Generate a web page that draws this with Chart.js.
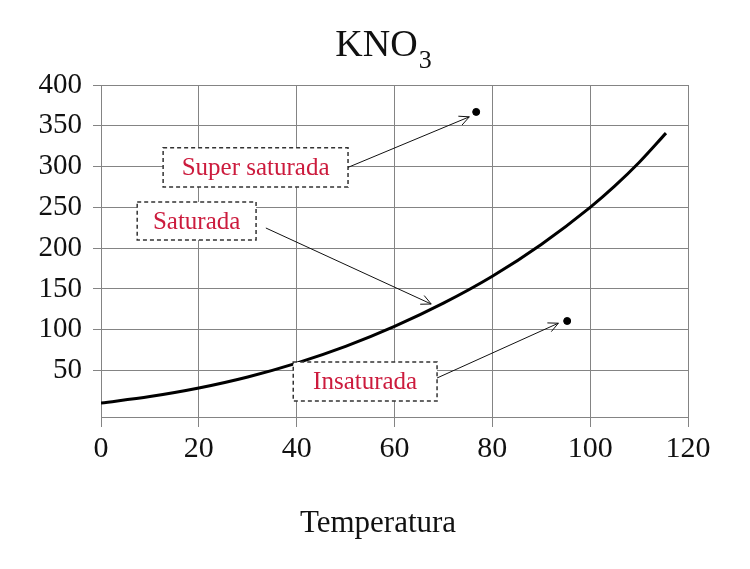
<!DOCTYPE html>
<html>
<head>
<meta charset="utf-8">
<script src="https://cdn.jsdelivr.net/npm/chart.js@4"></script>
<style>
  html, body { margin: 0; padding: 0; background: #fff; }
  #wrap { width: 750px; height: 569px; }
</style>
</head>
<body>
<div id="wrap"><canvas id="kno3"></canvas></div>
<script>
// curva de solubilidad KNO3
const temperaturas = [0, 10, 20, 30, 40, 50, 60, 70, 80, 90, 100, 105, 110, 115.5];
const solubilidad = [10, 18, 28.5, 42, 59, 79.5, 104, 132.5, 165.5, 204.5, 250, 276, 305, 341];
// puntos sueltos (super saturada / insaturada)
const puntosX = [76.7, 95.3];
const puntosY = [367, 110.7];
const xTicks = [0, 20, 40, 60, 80, 100, 120];
const yTicks = [50, 100, 150, 200, 250, 300, 350, 400];

const FONT = "'Liberation Serif', 'DejaVu Serif', serif";
const ROJO = '#cc1b3d';

// cajas con borde punteado y flechas, en coordenadas de datos
const etiquetas = [
  { texto: 'Super saturada', x0: 12.7, x1: 50.5, y0: 275, y1: 323, desde: [50.5, 299], hasta: [75.3, 361] },
  { texto: 'Saturada', x0: 7.4, x1: 31.7, y0: 210, y1: 256.6, desde: [33.7, 224.7], hasta: [67.5, 131.5] },
  { texto: 'Insaturada', x0: 39.3, x1: 68.7, y0: 12.6, y1: 60.4, desde: [68.7, 40.8], hasta: [93.5, 108] }
];

const anotaciones = {
  id: 'anotaciones',
  afterDatasetsDraw(chart) {
    const {ctx, scales: {x, y}} = chart;
    ctx.save();
    etiquetas.forEach(e => {
      const l = x.getPixelForValue(e.x0), r = x.getPixelForValue(e.x1);
      const t = y.getPixelForValue(e.y1), b = y.getPixelForValue(e.y0);
      ctx.fillStyle = '#fff';
      ctx.fillRect(l, t, r - l, b - t);
      ctx.setLineDash([4, 3]);
      ctx.strokeStyle = '#333';
      ctx.lineWidth = 1.5;
      ctx.strokeRect(l, t, r - l, b - t);
      ctx.setLineDash([]);
      ctx.fillStyle = ROJO;
      ctx.font = '25px ' + FONT;
      ctx.textAlign = 'center';
      ctx.textBaseline = 'middle';
      ctx.fillText(e.texto, (l + r) / 2, (t + b) / 2 + 1);

      // flecha
      const ax = x.getPixelForValue(e.desde[0]), ay = y.getPixelForValue(e.desde[1]);
      const bx = x.getPixelForValue(e.hasta[0]), by = y.getPixelForValue(e.hasta[1]);
      ctx.strokeStyle = '#111';
      ctx.lineWidth = 1;
      ctx.beginPath();
      ctx.moveTo(ax, ay);
      ctx.lineTo(bx, by);
      const ang = Math.atan2(by - ay, bx - ax);
      const len = 11, abre = 0.45;
      ctx.moveTo(bx - len * Math.cos(ang - abre), by - len * Math.sin(ang - abre));
      ctx.lineTo(bx, by);
      ctx.lineTo(bx - len * Math.cos(ang + abre), by - len * Math.sin(ang + abre));
      ctx.stroke();
    });
    ctx.restore();
  }
};

// titulo con subindice y titulo del eje x
const titulos = {
  id: 'titulos',
  afterDraw(chart) {
    const ctx = chart.ctx;
    ctx.save();
    ctx.fillStyle = '#111';
    ctx.textBaseline = 'alphabetic';
    ctx.textAlign = 'left';
    ctx.font = '38px ' + FONT;
    const w1 = ctx.measureText('KNO').width;
    ctx.font = '26px ' + FONT;
    const w2 = ctx.measureText('3').width;
    const x0 = 383 - (w1 + w2) / 2;
    ctx.font = '38px ' + FONT;
    ctx.fillText('KNO', x0, 56);
    ctx.font = '26px ' + FONT;
    ctx.fillText('3', x0 + w1 + 1, 68);

    ctx.textAlign = 'center';
    ctx.font = '31px ' + FONT;
    ctx.fillText('Temperatura', 378, 532);
    ctx.restore();
  }
};

const setupChart = () => {
  const ctx = document.getElementById('kno3').getContext('2d');
  new Chart(ctx, {
    type: 'line',
    data: {
      datasets: [{
        data: temperaturas.map((t, i) => ({x: t, y: solubilidad[i]})),
        borderColor: '#000',
        borderWidth: 3,
        pointRadius: 0,
        cubicInterpolationMode: 'monotone',
        fill: false
      }, {
        type: 'scatter',
        data: puntosX.map((t, i) => ({x: t, y: puntosY[i]})),
        backgroundColor: '#000',
        borderColor: '#000',
        pointRadius: 3.5
      }]
    },
    options: {
      responsive: true,
      maintainAspectRatio: false,
      animation: false,
      layout: { padding: { left: 0, right: 62, top: 85, bottom: 0 } },
      scales: {
        x: {
          type: 'linear',
          min: 0,
          max: 120,
          afterBuildTicks: s => { s.ticks = xTicks.map(v => ({value: v})); },
          afterFit: s => { s.height = 152; },
          grid: { color: '#848484', lineWidth: 1, tickLength: 10, drawTicks: true },
          border: { color: '#848484' },
          ticks: { color: '#111', font: { family: FONT, size: 30 }, padding: 4 }
        },
        y: {
          min: -7,
          max: 400,
          afterBuildTicks: s => { s.ticks = yTicks.map(v => ({value: v})); },
          afterFit: s => { s.width = 101; },
          grid: { color: '#848484', lineWidth: 1, tickLength: 8, drawTicks: true },
          border: { color: '#848484' },
          ticks: { color: '#111', font: { family: FONT, size: 29 }, padding: 11 }
        }
      },
      plugins: {
        legend: { display: false },
        tooltip: { enabled: false }
      }
    },
    plugins: [anotaciones, titulos]
  });
};
document.addEventListener('DOMContentLoaded', () => {
  setupChart();
});
</script>
</body>
</html>
